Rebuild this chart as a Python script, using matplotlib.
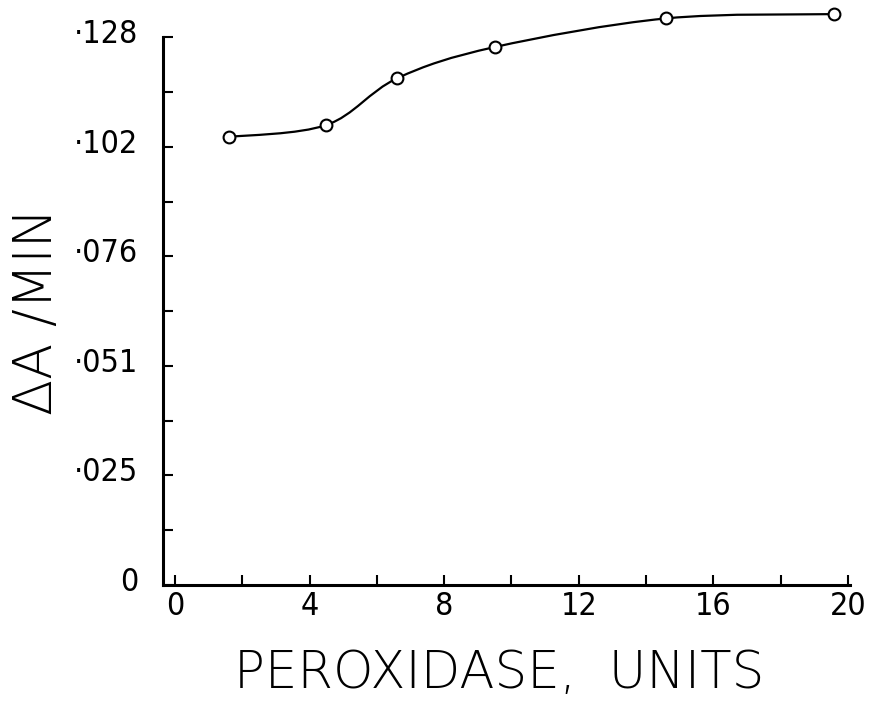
import matplotlib
matplotlib.use("Agg")
import matplotlib.pyplot as plt
from matplotlib.path import Path
from matplotlib.patches import PathPatch
from matplotlib.transforms import ScaledTranslation
import numpy as np

# data
peroxidase = [1.6, 4.5, 6.6, 9.5, 14.6, 19.6]
rate = [0.1047, 0.1075, 0.1184, 0.1257, 0.1324, 0.1334]

y_ticks = [0, 0.0256, 0.0512, 0.0768, 0.1024, 0.128]
y_labels = ['0', '·025', '·051', '·076', '·102', '·128']
x_ticks = [0, 4, 8, 12, 16, 20]
x_labels = ['0', '4', '8', '12', '16', '20']

fig = plt.figure(figsize=(8.84, 7.11), dpi=100)
ax = fig.add_axes([0.1844, 0.1772, 0.777, 0.8186])

# smooth curve through the points (catmull-rom as cubic bezier)
pts = np.column_stack([peroxidase, rate])
ext = np.vstack([pts[0], pts, pts[-1]])
verts = [tuple(pts[0])]
codes = [Path.MOVETO]
for i in range(1, len(ext) - 2):
    p0, p1, p2, p3 = ext[i - 1], ext[i], ext[i + 1], ext[i + 2]
    c1 = p1 + (p2 - p0) / 6.0
    c2 = p2 - (p3 - p1) / 6.0
    verts += [tuple(c1), tuple(c2), tuple(p2)]
    codes += [Path.CURVE4] * 3
ax.add_patch(PathPatch(Path(verts, codes), fill=False, lw=1.6, color='black', clip_on=False))
ax.plot(peroxidase, rate, 'o', ms=8.5, mfc='white', mec='black', mew=1.5, clip_on=False, zorder=3)

ax.set_xlim(-0.36, 20.06)
ax.set_ylim(0, 0.136)
ax.spines['top'].set_visible(False)
ax.spines['right'].set_visible(False)
ax.spines['left'].set_bounds(0, 0.128)
ax.spines['left'].set_linewidth(2.2)
ax.spines['bottom'].set_linewidth(2.2)

ax.set_yticks(y_ticks)
ax.set_yticklabels(y_labels)
ax.set_yticks([0.0128 + 0.0256 * i for i in range(5)], minor=True)
ax.set_xticks(x_ticks)
ax.set_xticklabels(x_labels)
ax.set_xticks([2, 6, 10, 14, 18], minor=True)
ax.tick_params(which='both', direction='in', length=7, width=1.5)
ax.tick_params(axis='y', which='major', pad=18, labelsize=23)
ax.tick_params(axis='x', which='major', pad=4, labelsize=23)
for lab in ax.get_yticklabels():
    lab.set_fontstretch('condensed')
    lab.set_transform(lab.get_transform() + ScaledTranslation(0, 0.06, fig.dpi_scale_trans))
for lab in ax.get_xticklabels():
    lab.set_fontstretch('condensed')

ax.set_xlabel('PEROXIDASE,  UNITS', fontsize=37, fontweight='light')
ax.xaxis.set_label_coords(0.49, -0.11)
ax.set_ylabel('ΔA /MIN', fontsize=38, fontweight='light')
ax.yaxis.set_label_coords(-0.145, 0.47)

fig.savefig('out.png', dpi=100)
